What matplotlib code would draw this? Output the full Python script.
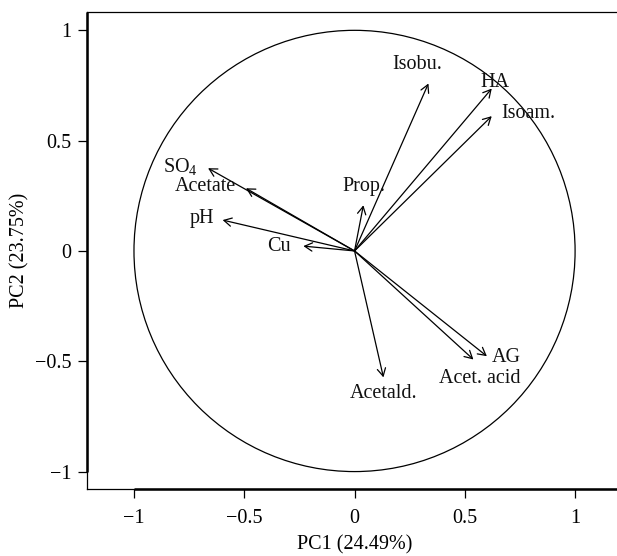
import matplotlib
matplotlib.use("Agg")
import matplotlib.pyplot as plt
from matplotlib.patches import Circle

plt.rcParams['font.family'] = ['Liberation Serif', 'DejaVu Serif']
plt.rcParams['mathtext.fontset'] = 'custom'
plt.rcParams['mathtext.rm'] = 'Liberation Serif'

# Variable loadings (PC1, PC2)
variables = ["SO$_4$", "Acetate", "pH", "Cu", "Isobu.", "HA", "Isoam.", "Prop.", "AG", "Acet. acid", "Acetald."]
pc1 = [-0.664, -0.492, -0.598, -0.232, 0.335, 0.622, 0.622, 0.040, 0.600, 0.539, 0.131]
pc2 = [0.375, 0.284, 0.140, 0.022, 0.759, 0.736, 0.611, 0.207, -0.477, -0.492, -0.573]

# label anchor positions (data coords)
label_x = [-0.791, -0.678, -0.694, -0.345, 0.286, 0.637, 0.789, 0.043, 0.687, 0.569, 0.132]
label_y = [0.380, 0.290, 0.145, 0.022, 0.847, 0.765, 0.625, 0.294, -0.481, -0.580, -0.648]

ticks = [-1, -0.5, 0, 0.5, 1]
tick_labels = ["\u22121", "\u22120.5", "0", "0.5", "1"]
xlabel = "PC1 (24.49%)"
ylabel = "PC2 (23.75%)"

FS = 14.5

fig = plt.figure(figsize=(6.17, 5.56), dpi=100)
ax = fig.add_axes([0.141, 0.1205, 0.859, 0.8575])
ax.set_xlim(-1.213, 1.190)
ax.set_ylim(-1.079, 1.082)

ax.add_patch(Circle((0, 0), 1, fill=False, lw=0.9, ec='black'))

for x, y in zip(pc1, pc2):
    ax.annotate('', xy=(x, y), xytext=(0, 0),
                arrowprops=dict(arrowstyle='->,head_length=0.55,head_width=0.3',
                                lw=0.9, color='black', shrinkA=0, shrinkB=0,
                                mutation_scale=10))
for name, lx, ly in zip(variables, label_x, label_y):
    ax.text(lx, ly, name, ha='center', va='center', fontsize=FS, color='#111111')

for s in ['top', 'left', 'bottom']:
    ax.spines[s].set_linewidth(0.9)
ax.spines['right'].set_visible(False)

# thick axis lines like R axis()
ax.plot([-1, 1.19], [-1.079, -1.079], color='black', lw=1.8, clip_on=False, solid_capstyle='butt')
ax.plot([-1.213, -1.213], [-1, 1.082], color='black', lw=1.8, clip_on=False, solid_capstyle='butt')

ax.set_xticks(ticks)
ax.set_xticklabels(tick_labels)
ax.set_yticks(ticks)
ax.set_yticklabels(tick_labels)
ax.tick_params(direction='out', length=6.5, width=0.9, labelsize=FS)
ax.tick_params(axis='x', pad=8)
ax.tick_params(axis='y', pad=5)

fig.text(355 / 617, 1 - 545 / 556, xlabel, ha='center', va='center', fontsize=FS)
fig.text(20 / 617, 1 - 250 / 556, ylabel, ha='center', va='center', rotation=90, fontsize=FS)

fig.savefig("out.png", dpi=100)
